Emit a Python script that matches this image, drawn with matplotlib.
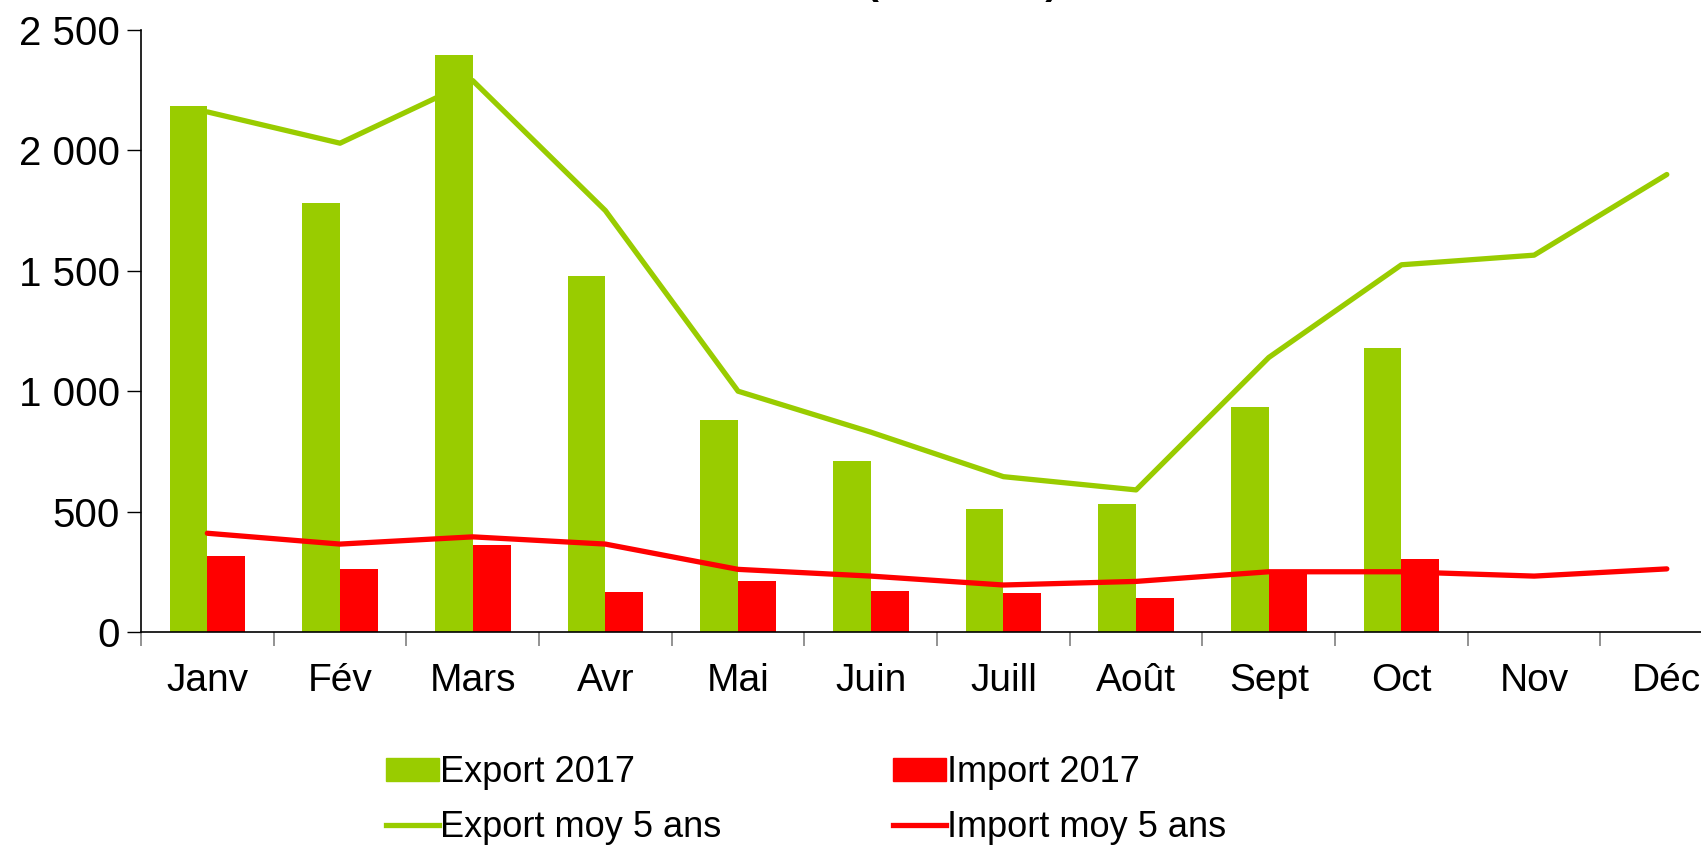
import matplotlib
matplotlib.use("Agg")
import matplotlib.pyplot as plt
import numpy as np
from matplotlib.patches import Patch
from matplotlib.lines import Line2D

months = ["Janv", "Fév", "Mars", "Avr", "Mai", "Juin", "Juill", "Août",
          "Sept", "Oct", "Nov", "Déc"]
export_2017 = [2185, 1780, 2395, 1480, 880, 710, 510, 530, 935, 1180]
import_2017 = [315, 260, 360, 165, 210, 170, 160, 140, 255, 305]
export_moy5 = [2160, 2030, 2290, 1750, 1000, 830, 645, 590, 1140, 1525, 1565, 1900]
import_moy5 = [410, 365, 395, 365, 260, 232, 195, 210, 250, 250, 232, 262]
yticks = [0, 500, 1000, 1500, 2000, 2500]
ytick_labels = ["0", "500", "1 000", "1 500", "2 000", "2 500"]

GREEN = "#99CC00"
RED = "#FF0000"

plt.rcParams["font.family"] = ["Liberation Sans", "DejaVu Sans"]

fig = plt.figure(figsize=(17.01, 8.46), dpi=100)
ax = fig.add_axes([0.0829, 0.253, 0.936, 0.7115])

x = np.arange(len(months))
w = 0.285
ax.bar(x[:len(export_2017)] - w / 2, export_2017, width=w, color=GREEN)
ax.bar(x[:len(import_2017)] + w / 2, import_2017, width=w, color=RED)
ax.plot(x, export_moy5, color=GREEN, lw=3.8, solid_capstyle="round")
ax.plot(x, import_moy5, color=RED, lw=3.8, solid_capstyle="round")

ax.set_xlim(-0.5, len(months) - 0.5)
ax.set_ylim(0, 2500)
ax.set_yticks(yticks)
ax.set_yticklabels(ytick_labels)
ax.set_xticks(x)
ax.set_xticklabels(months)
ax.set_xticks(np.arange(-0.5, len(months)), minor=True)
ax.tick_params(axis="x", which="major", length=0, pad=22, labelsize=28)
ax.tick_params(axis="x", which="minor", length=10, color="#808080", width=1.2)
ax.tick_params(axis="y", length=10, width=1, pad=5, labelsize=29)
for s in ("top", "right"):
    ax.spines[s].set_visible(False)
for s in ("left", "bottom"):
    ax.spines[s].set_linewidth(1.2)

# title sits mostly above the canvas in the source image
fig.text(0.622, 1.0075, "(en 1000 t)", ha="right", va="baseline",
         fontsize=28, fontweight="bold")

handles = [Patch(color=GREEN), Line2D([], [], color=GREEN, lw=3.8),
           Patch(color=RED), Line2D([], [], color=RED, lw=3.8)]
labels = ["Export 2017", "Export moy 5 ans", "Import 2017", "Import moy 5 ans"]
fig.legend(handles, labels, ncol=2, loc="center left",
           bbox_to_anchor=(0.2165, 0.054), frameon=False,
           prop={"size": 26},
           handlelength=1.45, handleheight=0.6, handletextpad=0.05,
           columnspacing=4.75, labelspacing=0.55, borderpad=0)

fig.savefig("out.png", dpi=100)
